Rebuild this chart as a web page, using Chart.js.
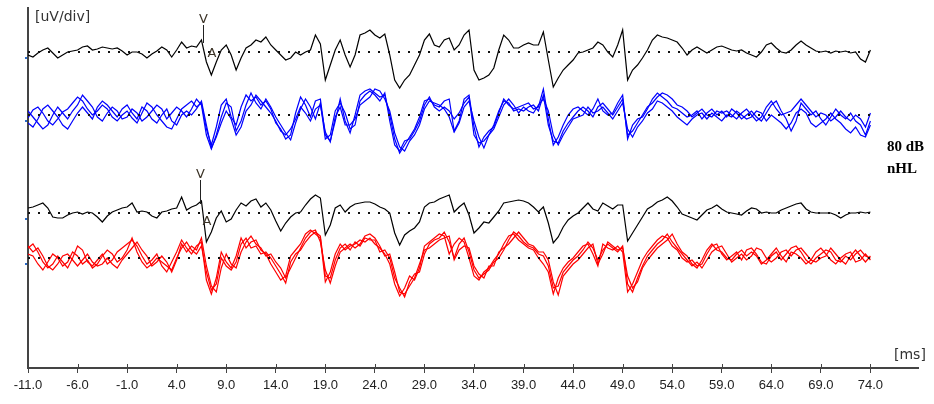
<!DOCTYPE html>
<html>
<head>
<meta charset="utf-8">
<script src="https://cdn.jsdelivr.net/npm/chart.js@4"></script>
<style>
  html, body { margin: 0; padding: 0; background: #fff; }
  canvas { display: block; }
</style>
</head>
<body>
<canvas id="abr" width="934" height="404"></canvas>
<script>
// sampling of every trace: -11 ms to 74 ms, one point each 0.5 ms
const startMs = -11;
const stepMs = 0.5;
const tickMs = [-11, -6, -1, 4, 9, 14, 19, 24, 29, 34, 39, 44, 49, 54, 59, 64, 69, 74];

// zero line of each trace on the shared vertical scale (div units)
const offsets = { top: 316, blue: 253, lower: 155, red: 110 };

// averaged trace, upper channel
const avgTop = [
  -3,-5,-1,2,4,-1,-6,-3,0,1,
  2,5,6,2,3,5,4,3,4,1,
  -3,0,0,-2,-6,-2,1,5,2,-5,
  2,10,4,6,5,12,-10,-23,-10,2,
  7,-3,-18,-6,4,7,12,10,15,7,
  2,-3,-8,-6,0,-3,0,2,17,8,
  -28,-13,2,12,-3,-15,-3,17,19,22,
  17,14,18,-3,-28,-36,-28,-23,-13,-3,
  12,18,7,5,12,14,2,7,17,22,
  -18,-28,-26,-23,-16,2,17,12,4,4,
  7,9,7,7,20,-8,-35,-26,-18,-13,
  -8,-1,0,2,4,10,7,0,-5,7,
  22,-28,-18,-13,-6,2,12,17,15,14,
  12,10,4,-3,2,5,2,-1,2,5,
  6,4,2,1,2,-1,-3,-5,0,7,
  9,4,0,-1,2,7,11,7,4,1,
  0,1,-1,1,0,1,-1,0,-7,-10,
  2
];

// single runs, upper channel (blue)
const blueA = [
  -3,5,8,2,-6,-10,-4,3,6,12,
  18,14,6,0,4,10,6,-2,-6,0,
  4,-3,-8,2,12,8,0,-6,-12,-14,
  -4,6,10,14,8,12,-14,-30,-12,10,
  16,-2,-10,8,20,14,18,10,14,6,
  -8,-14,-24,-20,2,18,10,-2,14,16,
  -20,-26,-6,16,-6,-18,0,20,24,26,
  22,18,20,0,-24,-38,-30,-22,-14,-2,
  14,16,10,8,14,16,-16,-6,16,20,
  -12,-32,-22,-16,-12,2,16,10,6,8,
  10,12,6,8,26,-4,-30,-22,-10,0,
  6,8,4,0,6,16,4,0,2,12,
  20,-24,-10,-4,-2,6,16,22,18,14,
  8,6,2,-2,0,4,-4,2,6,0,
  4,-2,6,2,-4,0,4,-2,-6,2,
  10,14,4,-4,-16,-6,12,6,0,4,
  -4,-10,-2,6,0,-4,2,-6,-10,-20,
  -6
];
const blueB = [
  4,-2,-8,-14,-10,0,8,2,-4,4,
  10,20,14,8,-2,-6,2,8,4,-4,
  -2,6,2,-6,-2,4,10,6,-4,2,
  8,4,-2,6,16,10,-20,-34,-20,-2,
  12,8,-16,-6,10,22,12,6,16,8,
  -2,-10,-18,-25,-8,6,16,8,-4,12,
  -24,-20,4,12,2,-14,-10,14,20,24,
  20,14,22,-6,-30,-36,-26,-24,-16,-6,
  10,18,8,4,8,4,-4,2,12,18,
  -20,-28,-26,-20,-10,4,14,12,4,6,
  4,8,10,4,20,-10,-26,-28,-16,-8,
  -2,4,8,4,-2,8,12,6,0,8,
  16,-20,-16,-8,0,8,12,18,22,20,
  16,10,8,4,-2,2,6,0,-2,4,
  2,4,0,-4,2,6,0,-6,-2,8,
  14,6,0,2,4,10,16,10,4,-2,
  2,0,-6,-2,4,-2,-6,0,-4,-12,
  2
];
const blueC = [
  -8,-12,-4,6,10,4,-2,-10,-14,-6,
  2,8,2,-4,8,14,10,4,-2,6,
  10,2,-4,8,4,-4,-8,0,6,-6,
  -10,0,4,0,6,14,-10,-33,-22,-8,
  4,-4,-20,-12,4,10,20,14,8,2,
  -6,-16,-20,-14,-4,8,2,-6,6,10,
  -17,-27,-2,8,-10,-10,-4,10,14,18,
  26,24,16,4,-18,-32,-36,-26,-20,-10,
  6,14,12,10,6,-2,-17,-8,8,14,
  -6,-22,-33,-20,-14,-2,10,16,10,2,
  8,4,2,10,16,4,-20,-30,-20,-12,
  -4,-2,0,8,2,4,8,2,-4,4,
  12,-14,-22,-12,-6,2,6,14,12,8,
  4,-2,-6,-10,-4,0,2,-4,2,-2,
  -6,0,-2,4,0,-4,-2,4,2,-6,
  0,-4,-8,-14,-8,2,6,2,-8,-12,
  -8,-4,2,-4,-8,-14,-18,-12,-20,-22,
  -10
];

// averaged trace, lower channel
const avgLower = [
  5,6,8,10,5,-4,-5,-5,-2,0,
  1,-1,1,0,-4,-9,-3,1,3,5,
  6,10,1,2,1,-3,-5,1,2,4,
  5,16,3,6,8,12,-29,-19,-5,2,
  -9,-6,3,10,7,12,14,6,10,3,
  -8,-18,-10,-4,0,1,8,14,18,15,
  -22,-12,5,8,1,6,9,10,11,11,
  9,6,4,0,-20,-32,-22,-18,-15,-9,
  6,10,11,14,16,18,1,6,10,-2,
  -20,-15,-9,-10,-4,2,10,11,12,13,
  12,10,6,1,6,-10,-30,-24,-14,-7,
  -3,0,5,10,4,2,10,7,4,8,
  8,-28,-20,-12,-4,4,7,11,13,16,
  12,6,-1,-3,-5,-7,-2,3,5,8,
  4,1,0,-1,-2,2,5,4,0,1,
  0,0,3,5,7,9,10,4,1,0,
  0,0,0,-2,-5,-2,0,0,1,0,
  1
];

// single runs, lower channel (red)
const redA = [
  10,14,6,-4,-10,-6,2,-4,-10,0,
  12,8,-4,-8,-2,4,-6,-2,6,10,
  14,18,12,2,-6,-2,4,-8,-14,-4,
  6,18,10,4,12,16,-22,-36,-20,6,
  -4,-10,2,20,10,16,18,8,4,-6,
  -14,-22,-18,2,8,14,24,28,24,20,
  -24,-14,4,14,8,12,14,18,16,20,
  14,10,4,-6,-26,-38,-30,-18,-22,-10,
  12,16,20,24,22,4,14,20,16,0,
  -18,-22,-14,-10,-2,4,14,22,24,18,
  14,10,8,0,-6,-14,-36,-20,-10,-4,
  0,6,12,14,4,-8,14,10,8,12,
  6,-34,-26,-14,-2,6,12,18,22,20,
  12,8,0,-4,-2,-8,-6,4,12,14,
  4,-2,2,6,-2,8,10,4,-4,-6,
  2,6,-2,4,10,12,6,-2,-6,0,
  4,8,6,-2,-4,2,-2,4,8,2,
  0
];
const redB = [
  4,2,-6,-12,-4,4,0,-8,-4,6,
  2,-6,-2,-10,-6,2,8,4,-4,0,
  8,20,6,-4,-10,-6,0,-4,-8,-12,
  0,10,16,8,4,12,-14,-32,-26,0,
  -8,-12,-4,14,20,10,12,4,6,0,
  -8,-16,-25,-4,4,8,16,22,26,22,
  -18,-20,-2,10,14,8,16,12,20,18,
  18,6,8,0,-20,-30,-39,-24,-16,-14,
  4,14,18,20,26,16,0,14,20,6,
  -12,-20,-16,-12,-4,0,8,18,26,22,
  16,12,10,4,2,-8,-30,-28,-14,-8,
  -2,2,8,16,10,-2,8,14,10,6,
  12,-26,-34,-20,-8,2,8,14,18,24,
  16,10,4,-2,-8,-4,-10,-2,6,10,
  12,4,-4,0,4,-2,2,10,8,0,
  -4,0,6,8,2,8,10,4,-2,-4,
  0,2,10,4,-2,-6,2,8,2,-4,
  2
];
const redC = [
  12,6,10,2,-8,-12,-6,2,4,-2,
  -8,-2,4,-4,-8,-6,0,-6,-10,-2,
  4,10,16,8,2,-8,-4,2,-4,-14,
  -2,14,6,12,8,20,-8,-28,-34,-10,
  4,-6,-10,6,16,22,14,10,2,4,
  -4,-10,-20,-10,0,10,20,26,28,16,
  -12,-25,-8,6,10,14,10,14,22,24,
  20,12,2,4,-14,-34,-36,-28,-20,-6,
  8,10,14,18,20,22,-2,8,12,10,
  -8,-16,-20,-8,-8,6,10,14,20,26,
  20,14,12,6,6,-2,-24,-37,-18,-12,
  -6,-2,4,10,14,-6,4,16,12,8,
  10,-18,-30,-24,-10,-2,4,10,14,18,
  24,14,6,2,-6,-10,-2,8,14,8,
  6,0,-2,4,8,2,6,2,-6,-2,
  4,10,2,-4,6,4,0,-6,-2,6,
  10,4,-2,-6,0,4,6,-4,-2,4,
  -2
];

// wave V / A marks (latency in ms)
const waveV = [6.65, 6.35];
const waveA = [7.55, 7.05];

const times = avgTop.map((_, i) => startMs + i * stepMs);
const toPoints = (vals, off) => vals.map((v, i) => ({ x: times[i], y: off + v }));
const zeroLine = off => [{ x: times[0], y: off }, { x: times[times.length - 1], y: off }];

const line = (data, color, order) => ({
  data, borderColor: color, borderWidth: 1.2, pointRadius: 0, tension: 0, order
});
const dots = off => ({
  data: zeroLine(off), borderColor: '#111', borderWidth: 2, borderDash: [2, 8],
  pointRadius: 0, order: 0
});

const marks = {
  id: 'marks',
  afterDraw(chart) {
    const { ctx, scales: { x, y } } = chart;
    ctx.save();
    ctx.fillStyle = '#333';
    ctx.textBaseline = 'alphabetic';

    ctx.font = '14px "DejaVu Sans"';
    ctx.textAlign = 'left';
    ctx.fillText('[uV/div]', 35, 21);
    ctx.fillText('[ms]', 894, 359);

    ctx.fillStyle = '#000';
    ctx.font = 'bold 15px "Liberation Serif"';
    ctx.fillText('80 dB', 887, 151);
    ctx.fillText('nHL', 887, 173);

    // tick marks above the time axis
    ctx.strokeStyle = '#444';
    ctx.lineWidth = 1;
    const base = Math.round(y.getPixelForValue(0));
    tickMs.forEach(t => {
      const px = Math.round(x.getPixelForValue(t)) + 0.5;
      ctx.beginPath();
      ctx.moveTo(px, base - 4);
      ctx.lineTo(px, base);
      ctx.stroke();
    });

    // small channel marks on the left axis
    ctx.fillStyle = '#2a6ac8';
    [offsets.top, offsets.blue, offsets.lower, offsets.red].forEach(o => {
      const py = Math.round(y.getPixelForValue(o)) + 5;
      ctx.fillRect(x.left - 3, py, 2, 2);
    });

    // wave labels
    ctx.fillStyle = '#3a3226';
    ctx.strokeStyle = '#222';
    ctx.textAlign = 'center';
    ctx.font = '13px "DejaVu Sans"';
    const vTop = [y.getPixelForValue(offsets.top), y.getPixelForValue(offsets.lower)];
    waveV.forEach((t, k) => {
      const px = Math.round(x.getPixelForValue(t)) + 0.5;
      const zy = vTop[k];
      const gap = k === 0 ? 29 : 35;
      ctx.fillText('V', px, zy - gap);
      ctx.beginPath();
      ctx.moveTo(px, zy - gap + 2);
      ctx.lineTo(px, zy - 9);
      ctx.stroke();
    });
    waveA.forEach((t, k) => {
      const px = x.getPixelForValue(t);
      ctx.fillText('A', px, vTop[k] + (k === 0 ? 5 : 12));
    });
    ctx.restore();
  }
};

new Chart(document.getElementById('abr'), {
  type: 'line',
  data: {
    datasets: [
      dots(offsets.top), dots(offsets.blue), dots(offsets.lower), dots(offsets.red),
      line(toPoints(avgTop, offsets.top), '#000000', 1),
      line(toPoints(blueA, offsets.blue), '#0000ff', 1),
      line(toPoints(blueB, offsets.blue), '#0000ff', 1),
      line(toPoints(blueC, offsets.blue), '#0000ff', 1),
      line(toPoints(avgLower, offsets.lower), '#000000', 1),
      line(toPoints(redA, offsets.red), '#ff0000', 1),
      line(toPoints(redB, offsets.red), '#ff0000', 1),
      line(toPoints(redC, offsets.red), '#ff0000', 1)
    ]
  },
  options: {
    responsive: false,
    animation: false,
    layout: { padding: { left: 28, top: 8, right: 16, bottom: 0 } },
    plugins: { legend: { display: false }, tooltip: { enabled: false } },
    scales: {
      x: {
        type: 'linear',
        min: -11,
        max: 78.8,
        afterBuildTicks: s => { s.ticks = tickMs.map(v => ({ value: v })); },
        afterFit: s => { s.height = 36; },
        border: { display: true, color: '#444', width: 2 },
        grid: { display: true, drawOnChartArea: false, drawTicks: true, tickLength: 5, color: '#444' },
        ticks: {
          autoSkip: false, maxRotation: 0, padding: 5, color: '#222',
          font: { family: 'Liberation Sans', size: 13 },
          callback: v => v.toFixed(1)
        }
      },
      y: {
        min: 0,
        max: 360,
        afterFit: s => { s.width = 0; },
        border: { display: true, color: '#444', width: 2 },
        grid: { display: false },
        ticks: { display: false }
      }
    }
  },
  plugins: [marks]
});
</script>
</body>
</html>
